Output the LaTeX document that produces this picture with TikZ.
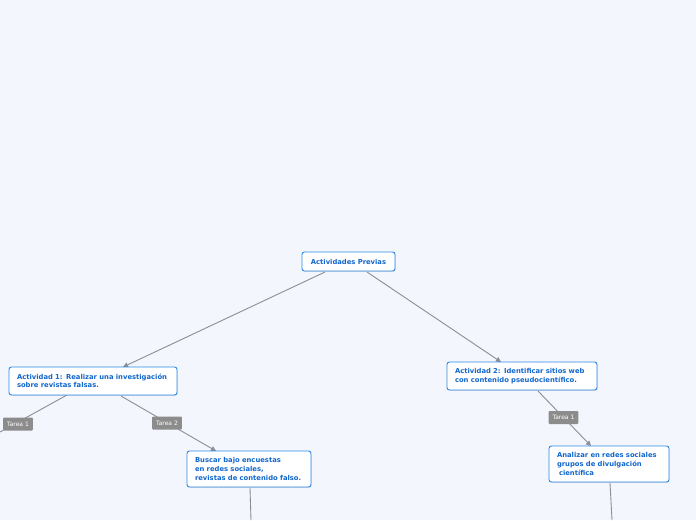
\documentclass[tikz,border=0pt]{standalone}
\usepackage{fontspec}
\setmainfont{DejaVu Sans}
\usetikzlibrary{arrows.meta,shadows}
\definecolor{bg}{HTML}{F3F6FD}
\definecolor{boxb}{HTML}{2C88E6}
\definecolor{boxt}{HTML}{1167CC}
\definecolor{edge}{HTML}{8A8E98}
\definecolor{tag}{HTML}{8C8C8C}
\tikzset{
  topic/.style={draw=boxb, line width=0.9pt, fill=white, rounded corners=2.5pt,
    text=boxt, font=\fontsize{6.8}{8.6}\selectfont\bfseries, align=left,
    inner xsep=8pt, inner ysep=2pt, anchor=center,
    drop shadow={shadow xshift=0.6pt, shadow yshift=-0.8pt, opacity=0.25}},
  tarea/.style={fill=tag, rounded corners=1pt, text=white,
    font=\fontsize{6}{7}\selectfont, inner xsep=4pt, inner ysep=0pt,
    minimum height=13pt},
  conn/.style={draw=edge, line width=0.9pt},
  arr/.style={conn, -{Triangle[length=5pt,width=5pt]}},
}
\begin{document}
\begin{tikzpicture}[x=1pt,y=-1pt]
\useasboundingbox[fill=bg] (0,0) rectangle (696,520);
\coordinate (p1) at (325,272);
\coordinate (p2) at (367,272);
\coordinate (a1l) at (67,395);
\coordinate (a1r) at (121,396);
\coordinate (a2b) at (538,391);
\coordinate (leftend) at (0,432);
\coordinate (bb) at (250,488);
\coordinate (bend) at (251,520);
\coordinate (ab) at (610,483);
\coordinate (aend) at (612,520);
\coordinate (b1) at (216,451);
\coordinate (an1) at (591,446);
\coordinate (a1t) at (123,367);
\coordinate (a2t) at (501,362);

\draw[arr] (p1) -- (a1t);
\draw[arr] (p2) -- (a2t);
\draw[conn] (a1l) -- (leftend);
\draw[arr] (a1r) -- (b1);
\draw[arr] (a2b) -- (an1);
\draw[conn] (bb) -- (bend);
\draw[conn] (ab) -- (aend);

\node[topic, text width=77pt, minimum height=19pt, align=center] (prev) at (348.5,261.5) {Actividades Previas};
\node[topic, text width=152pt, minimum height=28pt] (act1) at (93,381) {Actividad 1: Realizar una investigación\\sobre revistas falsas.};
\node[topic, text width=134pt, minimum height=28pt] (act2) at (522,376) {Actividad 2: Identificar sitios web\\con contenido pseudocientífico.};
\node[topic, text width=108pt, minimum height=36pt] (busc) at (249,469) {Buscar bajo encuestas\\en redes sociales,\\revistas de contenido falso.};
\node[topic, text width=104pt, minimum height=36pt] (anal) at (609,464) {Analizar en redes sociales\\grupos de divulgación\\\hspace*{2pt}científica};

\node[tarea] (t1l) at (18,424) {Tarea 1};
\node[tarea] (t2) at (167,423) {Tarea 2};
\node[tarea] (t1r) at (563.5,417.5) {Tarea 1};
\end{tikzpicture}
\end{document}
